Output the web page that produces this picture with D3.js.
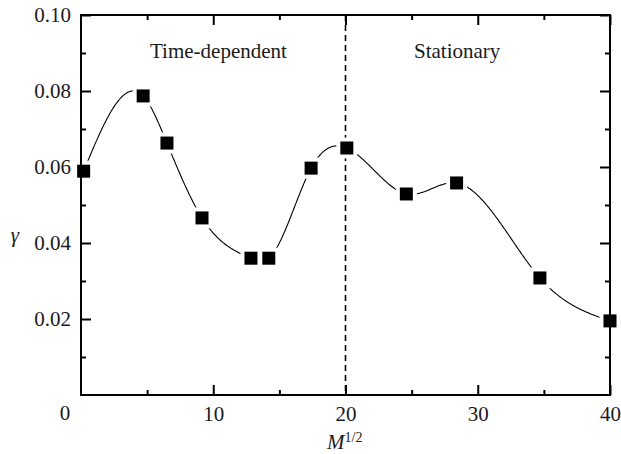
<!DOCTYPE html>
<html><head><meta charset="utf-8">
<script src="https://cdn.jsdelivr.net/npm/d3@7"></script>
<style>body{margin:0;background:#fff}svg{display:block}</style>
</head><body><svg id="c" width="621" height="454"></svg>
<script>
const xValues = [0.2, 4.7, 6.5, 9.15, 12.85, 14.2, 17.4, 20.1, 24.6, 28.4, 34.7, 40.0];
const gammaValues = [0.0589, 0.0787, 0.0663, 0.0466, 0.0360, 0.0360, 0.0597, 0.0650, 0.0529, 0.0558, 0.0308, 0.0195];
const xMajorTicks = [10, 20, 30, 40];
const xMinorTicks = [5, 15, 25, 35];
const yMajorTicks = [0.02, 0.04, 0.06, 0.08, 0.10];
const yMinorTicks = [0.01, 0.03, 0.05, 0.07, 0.09];
const regionLabels = ["Time-dependent", "Stationary"];
const boundaryX = 20;

const FONT = "Liberation Serif";
const TXT = "#1a1a1a";
const svg = d3.select("#c");
const L = 81, R = 610, T = 15, B = 395;
const x = d3.scaleLinear().domain([0, 40]).range([L, R]);
const y = d3.scaleLinear().domain([0, 0.10]).range([B, T]);
const fs = 21;

function tickAxis(axisFn, scale, vals, size, transform) {
  const g = svg.append("g").attr("transform", transform)
    .call(axisFn(scale).tickValues(vals).tickSize(size).tickFormat(""));
  g.select(".domain").remove();
  g.selectAll(".tick line").attr("stroke", "#000").attr("stroke-width", 2);
  return g;
}
tickAxis(d3.axisTop, x, xMajorTicks, 10, `translate(0,${B})`);
tickAxis(d3.axisTop, x, xMinorTicks, 5, `translate(0,${B})`);
tickAxis(d3.axisBottom, x, xMajorTicks, 10, `translate(0,${T})`);
tickAxis(d3.axisBottom, x, xMinorTicks, 5, `translate(0,${T})`);
tickAxis(d3.axisRight, y, yMajorTicks, 10, `translate(${L},0)`);
tickAxis(d3.axisRight, y, yMinorTicks, 5, `translate(${L},0)`);
tickAxis(d3.axisLeft, y, yMajorTicks, 10, `translate(${R},0)`);
tickAxis(d3.axisLeft, y, yMinorTicks, 5, `translate(${R},0)`);

// x tick labels
const xl = svg.append("g").attr("transform", `translate(0,${B})`)
  .call(d3.axisBottom(x).tickValues(xMajorTicks).tickSize(0).tickPadding(11).tickFormat(d3.format("d")));
xl.select(".domain").remove();
xl.attr("font-family", FONT).attr("font-size", fs);
xl.selectAll("text").attr("fill", TXT);
svg.append("text").attr("x", 65).attr("y", 420).attr("text-anchor", "middle")
  .attr("font-family", FONT).attr("font-size", fs).attr("fill", TXT).text("0");

// y tick labels
const yl = svg.append("g").attr("transform", `translate(${L},0)`)
  .call(d3.axisLeft(y).tickValues(yMajorTicks).tickSize(0).tickPadding(10).tickFormat(d3.format(".2f")));
yl.select(".domain").remove();
yl.attr("font-family", FONT).attr("font-size", fs);
yl.selectAll("text").attr("fill", TXT);

// axis titles
svg.append("text").attr("x", 15).attr("y", 242).attr("text-anchor", "middle")
  .attr("font-family", FONT).attr("font-size", fs).attr("font-style", "italic").attr("fill", TXT).text("γ");
const xt = svg.append("text").attr("x", 327).attr("y", 449).attr("font-family", FONT)
  .attr("font-size", fs).attr("fill", TXT);
xt.append("tspan").attr("font-style", "italic").text("M");
xt.append("tspan").attr("font-size", 14).attr("dy", -7).text("1/2");

// region labels
svg.append("text").attr("x", 150).attr("y", 58).attr("font-family", FONT).attr("font-size", fs).attr("fill", TXT).text(regionLabels[0]);
svg.append("text").attr("x", 414).attr("y", 58).attr("font-family", FONT).attr("font-size", fs).attr("fill", TXT).text(regionLabels[1]);

// boundary
svg.append("line").attr("x1", x(boundaryX)).attr("x2", x(boundaryX)).attr("y1", T).attr("y2", B)
  .attr("stroke", "#000").attr("stroke-width", 1.6).attr("stroke-dasharray", "6,4");

// natural cubic spline y(x) for the smooth connecting curve (rendering only)
function naturalSpline(xs, ys) {
  const n = xs.length, h = [], a = [], l = [1], mu = [0], z = [0], c = new Array(n).fill(0), b = [], d = [];
  for (let i = 0; i < n - 1; i++) h.push(xs[i + 1] - xs[i]);
  for (let i = 1; i < n - 1; i++) a[i] = 3 / h[i] * (ys[i + 1] - ys[i]) - 3 / h[i - 1] * (ys[i] - ys[i - 1]);
  for (let i = 1; i < n - 1; i++) {
    l[i] = 2 * (xs[i + 1] - xs[i - 1]) - h[i - 1] * mu[i - 1];
    mu[i] = h[i] / l[i];
    z[i] = (a[i] - h[i - 1] * z[i - 1]) / l[i];
  }
  for (let j = n - 2; j >= 0; j--) {
    c[j] = (j === 0 ? 0 : z[j] - mu[j] * c[j + 1]);
    b[j] = (ys[j + 1] - ys[j]) / h[j] - h[j] * (c[j + 1] + 2 * c[j]) / 3;
    d[j] = (c[j + 1] - c[j]) / (3 * h[j]);
  }
  return t => {
    let i = 0;
    while (i < n - 2 && t > xs[i + 1]) i++;
    const dx = t - xs[i];
    return ys[i] + b[i] * dx + c[i] * dx * dx + d[i] * dx * dx * dx;
  };
}
const f = naturalSpline(xValues, gammaValues);
const sx = d3.range(xValues[0], xValues[xValues.length - 1], 0.05).concat([xValues[xValues.length - 1]]);
svg.append("path").attr("d", d3.line().x(d => x(d)).y(d => y(f(d)))(sx))
  .attr("fill", "none").attr("stroke", "#000").attr("stroke-width", 1.1);

// markers
const pts = xValues.map((v, i) => [v, gammaValues[i]]);
const s = 13, halo = 21;
svg.selectAll("rect.h").data(pts).join("rect").attr("class", "h")
  .attr("x", d => x(d[0]) - halo / 2).attr("y", d => y(d[1]) - halo / 2)
  .attr("width", halo).attr("height", halo).attr("fill", "#fff");
svg.selectAll("rect.m").data(pts).join("rect").attr("class", "m")
  .attr("x", d => x(d[0]) - s / 2).attr("y", d => y(d[1]) - s / 2)
  .attr("width", s).attr("height", s).attr("fill", "#000");
// frame on top
svg.append("rect").attr("x", L).attr("y", T).attr("width", R - L).attr("height", B - T)
  .attr("fill", "none").attr("stroke", "#000").attr("stroke-width", 2);
</script></body></html>
